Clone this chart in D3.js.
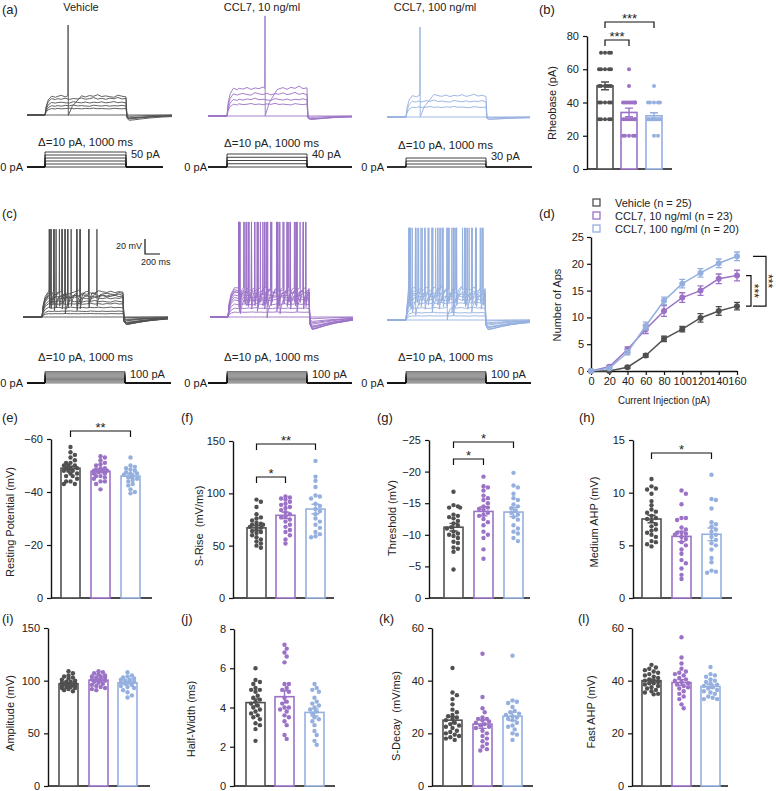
<!DOCTYPE html>
<html><head><meta charset="utf-8">
<script src="https://cdn.jsdelivr.net/npm/d3@7"></script>
<style>body{margin:0;background:#fff} text{font-family:"Liberation Sans",Arial,sans-serif;fill:#222}</style>
</head><body><svg id="c" width="776" height="791" xmlns="http://www.w3.org/2000/svg"></svg>
<script>
// ---------------- DATA ----------------
const groups = ["Vehicle", "CCL7, 10 ng/ml", "CCL7, 100 ng/ml"];
const legendLabels = ["Vehicle (n = 25)", "CCL7, 10 ng/ml (n = 23)", "CCL7, 100 ng/ml (n = 20)"];
const colors = ["#505050", "#9b72c6", "#95b0df"];

// (a) rheobase protocol traces
const stepsA = [[0,10,20,30,40,50],[0,10,20,30,40],[0,10,20,30]];
const levelsA = [[0,8,12.5,16.5,21,25],[0,15,22,29,36],[0,12.5,21,28]];
const spikesA = [[[],[],[],[],[],[285]],[[],[],[],[],[475]],[[],[],[],[175]]];
const stepLabelsA = ["50 pA","40 pA","30 pA"];
// (c) 100 pA protocol traces
const stepsC = [0,10,20,30,40,50,60,70,80,90,100];
const levelsC = [[0,4,8,12.5,17,21,25,27,29,31,33],[0,6,12,17,22,26,29,32,34,36,38],[0,5,10,16,22,27,31,34,37,40,42]];
const spikesC = [
  [[],[],[],[],[],[285],[150,430],[110,248,470],[91,174,318,578],[112,215,360,430,678],[91,145,248,285,318,471,578]],
  [[],[],[],[480],[150,640],[140,360,600,850],[135,290,450,610,770,930],[134,250,370,490,610,730,850,960],
   [140,230,330,430,530,630,730,830,930],[138,210,290,370,450,530,610,690,770,850,930],
   [134,195,260,330,400,470,540,610,680,750,820,890,960]],
  [[],[],[],[520],[120,600],[80,330,580,830],[60,240,420,600,780,950],[50,190,330,470,610,750,890],
   [45,160,280,400,520,640,760,880,975],[40,140,240,340,440,540,640,740,840,940],
   [35,120,205,290,375,460,545,630,715,800,885,970]]
];
const ripple = [0,2.0,1.0,0.4,1.5,0.2,1.2,0.7,1.8,0.4,1.0,2.2,0.6,1.4,0.3,1.6,0.9,2.4,0.7,1.3,0.5];
const onsetT = [0,15,40,80,130];
const onsetF = [0,0.5,0.85,1.06,1.0];
const offsetT = [1012,1040,1100,1200,1320,1450];
const offsetF = [0.6,1.0,0.9,0.7,0.5,0.35];

// (b) rheobase
const rheoVeh = [70,70,70,70,60,60,60,60,60,50,50,50,50,50,50,40,40,40,40,40,30,30,30,30,30];
const rheo10 = [60,50,40,40,40,40,40,40,40,40,30,30,30,30,30,30,30,30,20,20,20,20,20];
const rheo100 = [50,40,40,40,40,40,30,30,30,30,30,30,30,30,30,30,30,30,20,20];
const rheoMean = [50,34,32];
const rheoSem = [2.3,2.6,1.8];

// (d) firing
const currents = [0,20,40,60,80,100,120,140,160];
const apsVeh = [0,0,0.7,2.9,6.0,7.8,9.9,11.2,12.1];
const apsVehSem = [0,0,0.2,0.3,0.5,0.5,0.8,0.8,0.7];
const aps10 = [0,0.8,4.0,7.8,11.2,13.7,15.0,17.2,17.8];
const aps10Sem = [0,0.2,0.5,0.8,1.0,0.9,0.9,0.9,1.0];
const aps100 = [0,0.5,3.5,8.4,13.1,16.3,18.3,20.1,21.4];
const aps100Sem = [0,0.2,0.5,0.7,0.7,0.8,0.8,0.8,0.8];

// (e) resting potential
const restVeh = [-57,-55,-54,-53,-52,-51,-51,-50,-50,-50,-49,-49,-49,-48,-48,-48,-47,-47,-46,-46,-45,-44,-44,-43,-43];
const rest10 = [-53.5,-53,-52,-51,-50.5,-50,-49,-49,-48.5,-48,-48,-48,-47.5,-47,-47,-46,-46,-45.5,-45,-44,-44,-43,-41];
const rest100 = [-53,-50,-49.5,-49,-48.5,-48,-47.5,-47,-47,-46.5,-46,-45.5,-45,-44.5,-44,-43,-42.5,-41,-40,-39.5];
const restMean = [-49,-47.8,-46]; const restSem = [0.7,0.6,0.8];
// (f) S-rise
const riseVeh = [94,92,87,80,77,76,74,72,71,70,70,69,68,67,65,64,63,62,60,58,56,54,52,50,48];
const rise10 = [97,96,95,94,92,90,89,87,86,84,82,80,78,77,75,73,70,68,65,63,60,56,52];
const rise100 = [131,116,112,106,98,97,95,90,88,85,83,80,76,73,70,67,63,61,59,58];
const riseMean = [67,79,85]; const riseSem = [2.5,3,4.5];
// (g) threshold
const thrVeh = [-16.8,-14.7,-14.5,-14.3,-14.3,-13.2,-13,-12.8,-12.6,-12.2,-11.8,-11.5,-11.2,-11,-10.5,-10.2,-10,-9.8,-9.5,-8.9,-8.7,-8,-7.8,-7.3,-4.5];
const thr10 = [-19.2,-17.7,-17.5,-17,-16.2,-15.8,-15.5,-15,-14.5,-14.3,-14.1,-14,-13.5,-13.2,-13,-12.5,-12,-11.5,-10.5,-10,-9.5,-7.7,-6.2];
const thr100 = [-19.8,-17.8,-17.5,-16.5,-15.8,-15.5,-14.8,-14.5,-14.2,-13.8,-13.5,-13.2,-12.8,-12.4,-11.5,-11,-10.5,-10.2,-9.5,-9];
const thrMean = [-11.2,-13.7,-13.6]; const thrSem = [0.6,0.7,0.7];
// (h) medium AHP
const mahpVeh = [11.3,10.6,10.4,10.3,9.9,9.2,8.8,8.4,8.2,8.1,7.8,7.6,7.5,7.3,7.0,6.8,6.5,6.4,6.2,6.0,5.8,5.4,5.3,5.1,4.9];
const mahp10 = [10.2,9.9,8.9,7.6,7.6,7.4,6.7,6.5,6.2,6.2,6.1,6.0,5.8,5.6,5.3,5.0,4.6,4.2,3.6,3.3,2.8,2.2,1.8];
const mahp100 = [11.7,9.4,9.3,8.5,7.2,7.0,6.8,6.5,6.3,6.0,5.8,5.5,5.2,5.0,4.6,3.8,3.4,2.6,2.5,2.4];
const mahpMean = [7.5,5.85,6.05]; const mahpSem = [0.35,0.5,0.6];
// (i) amplitude
const ampVeh = [109,107,105,104,103,102,101,100,99,99,98,98,97,97,96,96,95,95,94,94,93,93,92,91,90];
const amp10 = [109,108,107,106,105,104,104,103,103,102,101,101,100,100,99,98,97,96,95,94,93,92,91];
const amp100 = [108,105,104,103,102,101,101,100,99,99,98,97,96,95,94,93,91,89,86,84];
const ampMean = [97,100.5,98]; const ampSem = [1,1,1.3];
// (j) half-width
const hwVeh = [6.0,5.4,5.3,5.2,5.0,4.9,4.9,4.8,4.6,4.5,4.4,4.3,4.2,4.1,4.0,3.9,3.8,3.7,3.6,3.5,3.4,3.2,3.1,2.9,2.3];
const hw10 = [7.2,7.0,6.8,6.6,6.3,5.2,5.2,5.0,4.9,4.8,4.5,4.3,4.2,4.0,4.0,3.9,3.8,3.6,3.5,3.3,3.1,2.6,2.4];
const hw100 = [5.2,5.0,4.9,4.8,4.5,4.3,4.2,4.1,4.0,3.9,3.8,3.7,3.5,3.4,3.3,3.1,2.8,2.6,2.3,2.1];
const hwMean = [4.25,4.55,3.75]; const hwSem = [0.18,0.3,0.18];
// (k) S-decay
const decVeh = [44.8,35.5,34.5,33,31,29,28,27,26.5,26,25.5,25,24,23.5,23,22.5,22,21,20.5,20,19.5,19,18.5,18,17.5];
const dec10 = [50.2,33.8,29.5,28,26,25.5,25.5,25,24.5,24,23.5,23,22.5,22,21,20,19,18,17,16,15,14,13.5];
const dec100 = [49.5,32.5,32,31.5,30,28.5,28,27.5,27,26.5,26,25.5,25,24,23,22.5,21.5,20,19.5,17.5];
const decMean = [25,23.5,26.5]; const decSem = [1.3,1.6,1.6];
// (l) fast AHP
const fahpVeh = [46,45,44.5,44,43.5,43,42.5,42,41.5,41,40.5,40,40,39.5,39,39,38.5,38,37.5,37,36.5,36,35.5,35,34.8];
const fahp10 = [56.5,48.8,46.5,44.5,43.5,43,42.5,42,41,40.5,40,39.5,39,38.5,38,37.5,37,36,35,34,33,31,29.5];
const fahp100 = [45.2,42.5,42,41.5,40.5,40,39.5,39,38.5,38,37.5,37,36.5,36,35.5,35,34,33.5,33,33];
const fahpMean = [40,39.3,37.8]; const fahpSem = [0.6,1.1,0.7];

// ---------------- DRAW ----------------
const svg = d3.select("#c");
svg.append("rect").attr("width",776).attr("height",791).attr("fill","#fff");
const FS = 11;

function txt(x,y,s,opt={}) {
  const t = svg.append("text").attr("x",x).attr("y",y).text(s)
    .attr("font-size",opt.fs||FS).attr("text-anchor",opt.anchor||"start");
  if (opt.rot) t.attr("transform",`rotate(${opt.rot},${x},${y})`);
  if (opt.pre) t.style("white-space","pre");
  return t;
}

// panel labels
[["(a)",2,14],["(b)",539,14],["(c)",2,218],["(d)",539,218],["(e)",2,422],["(f)",181,422],["(g)",377,422],["(h)",579,422],
 ["(i)",2,623],["(j)",181,623],["(k)",379,623],["(l)",578,623]].forEach(d=>txt(d[1],d[2],d[0],{fs:13}));

// ---- traces ----
function sweepPoints(L, spikes, k, p, tStart, tEnd) {
  const V0 = -60 + [0,0.4,-0.4][k%3];
  let pts = [[tStart,V0],[0,V0]];
  for (let i=1;i<onsetT.length;i++) pts.push([onsetT[i], V0+L*onsetF[i]]);
  for (let i=3;i<=20;i++) pts.push([i*50, V0+L+ripple[(i+5*k)%ripple.length]*L/25*p.rip]);
  for (let i=0;i<offsetT.length;i++) pts.push([offsetT[i], V0-L*p.under*offsetF[i]]);
  pts.push([tEnd, V0-L*p.under*0.25]);
  spikes.forEach(ts=>{
    const vb = V0+L, ahp = p.ahp==null ? L : p.ahp;
    pts = pts.filter(q=>q[0]<ts-4 || q[0]>Math.min(ts+p.rec,999));
    [[ts-3,vb+2],[ts,p.peak],[ts+3,vb-ahp],[ts+p.rec*0.35,vb-ahp*0.5],[ts+p.rec,vb]]
      .filter(q=>q[0]<1000).forEach(q=>pts.push(q));
  });
  pts.sort((a,b)=>a[0]-b[0]);
  return pts;
}

function tracePanel(cfg, steps, levels, spikes, color, p) {
  const xs = d3.scaleLinear().domain([0,1000]).range([cfg.sx0,cfg.sx1]);
  const ys = d3.scaleLinear().domain([-60,60]).range([cfg.baseY,cfg.baseY-86.4]);
  const tStart = xs.invert(cfg.x0), tEnd = xs.invert(cfg.x1);
  const line = d3.line().x(d=>xs(d[0])).y(d=>ys(d[1]));
  const g = svg.append("g");
  levels.forEach((L,k)=>{
    g.append("path").attr("d",line(sweepPoints(L,spikes[k],k,p,tStart,tEnd)))
      .attr("fill","none").attr("stroke",color).attr("stroke-width",0.9).attr("stroke-linejoin","round");
  });
  // stimulus
  const ss = d3.scaleLinear().domain([0,d3.max(steps)]).range([cfg.stimY,cfg.stimTop]);
  const xst = d3.scaleLinear().domain([0,1000]).range([cfg.bx0,cfg.bx1]);
  const ls = xst.invert(cfg.lx0), le = xst.invert(cfg.lx1);
  const sline = d3.line().x(d=>xst(d[0])).y(d=>ss(d[1]));
  steps.forEach(a=>{
    g.append("path").attr("d",sline([[ls,0],[0,0],[0,a],[1000,a],[1000,0],[le,0]]))
      .attr("fill","none").attr("stroke","#111").attr("stroke-width",cfg.sw);
  });
  txt(cfg.zx, cfg.stimY+4, "0 pA", {anchor:"end"});
  txt(cfg.bx1+5, cfg.topLabY, cfg.topLab);
  txt(cfg.dx, cfg.dy, "\u0394=10 pA, 1000 ms", {fs:11.5});
}

// titles
txt(81,11,groups[0],{anchor:"middle"});
txt(262,11,groups[1],{anchor:"middle"});
txt(435,11,groups[2],{anchor:"middle"});

const cfgA = [
  {x0:27,x1:172,sx0:45,sx1:126,bx0:45,bx1:126,sw:0.8,baseY:115,stimY:167,stimTop:152,lx0:27,lx1:163,zx:23,topLabY:158,topLab:stepLabelsA[0],dx:38,dy:146},
  {x0:208,x1:352,sx0:227,sx1:307,bx0:227,bx1:307,sw:0.8,baseY:116,stimY:167,stimTop:154,lx0:208,lx1:352,zx:207,topLabY:158,topLab:stepLabelsA[1],dx:224,dy:147},
  {x0:387,x1:530,sx0:406,sx1:486,bx0:406,bx1:486,sw:0.8,baseY:117,stimY:167,stimTop:158,lx0:387,lx1:532,zx:384,topLabY:160,topLab:stepLabelsA[2],dx:398,dy:149}
];
const pA = [{peak:65,under:0.28,rec:150,ahp:null,rip:1.5},{peak:79,under:0.15,rec:150,ahp:null,rip:1.5},{peak:65,under:0.12,rec:150,ahp:null,rip:1.5}];
cfgA.forEach((c,i)=>tracePanel(c,stepsA[i],levelsA[i],spikesA[i],colors[i],pA[i]));

const cfgC = [
  {x0:23,x1:168,sx0:42,sx1:123,bx0:45,bx1:125,sw:0.55,baseY:317,stimY:383,stimTop:371.5,lx0:27,lx1:171,zx:23,topLabY:378,topLab:"100 pA",dx:38,dy:361},
  {x0:210,x1:353,sx0:228,sx1:309,bx0:227,bx1:307,sw:0.55,baseY:317,stimY:383,stimTop:371.5,lx0:208,lx1:352,zx:207,topLabY:378,topLab:"100 pA",dx:224,dy:361},
  {x0:387,x1:530,sx0:406,sx1:485,bx0:406,bx1:486,sw:0.55,baseY:320,stimY:383,stimTop:371.5,lx0:387,lx1:531,zx:384,topLabY:378,topLab:"100 pA",dx:398,dy:361}
];
const pC = [{peak:62,under:0.33,rec:40,ahp:16,rip:1.2},{peak:72,under:0.47,rec:40,ahp:18,rip:1.2},{peak:68,under:0.33,rec:40,ahp:16,rip:1.2}];
cfgC.forEach((c,i)=>tracePanel(c,stepsC,levelsC[i],spikesC[i],colors[i],pC[i]));
// scale bar
svg.append("path").attr("d","M145,239V254H160").attr("fill","none").attr("stroke","#111").attr("stroke-width",1.2);
txt(142,249,"20 mV",{fs:9,anchor:"end"});
txt(141,265,"200 ms",{fs:9});

// ---- bar panels ----
function swarm(vals, ys, cx, r, half) {
  const sorted = vals.map(v=>({v,y:ys(v)})).sort((a,b)=>a.y-b.y);
  const placed = [], step = r, minD = 2*r*0.9;
  sorted.forEach(d=>{
    let best=0,bestOv=Infinity;
    for (let j=0;j<=Math.floor(half/step);j++){
      for (const s of (j===0?[1]:[1,-1])){
        const off=s*j*step; let ov=0;
        placed.forEach(p=>{const dist=Math.hypot(p.x-(cx+off),p.y-d.y); if(dist<minD) ov+=minD-dist;});
        if (ov<1e-6){best=off;bestOv=0;break;}
        if (ov<bestOv){bestOv=ov;best=off;}
      }
      if (bestOv===0) break;
    }
    d.x=cx+best; placed.push(d);
  });
  return placed;
}

function barPanel(c) {
  const ys = d3.scaleLinear().domain(c.domain).range([c.y0,c.y1]);
  const g = svg.append("g");
  const ax = g.append("g").attr("transform",`translate(${c.axisX},0)`)
    .call(d3.axisLeft(ys).tickValues(c.ticks).tickSize(4).tickSizeOuter(0).tickPadding(4).tickFormat(d3.format("d")));
  ax.select(".domain").attr("stroke","#111").attr("stroke-width",1.4);
  ax.selectAll(".tick line").attr("stroke","#111").attr("stroke-width",1.2);
  ax.selectAll(".tick text").attr("font-size",FS).attr("fill","#222").attr("font-family","Liberation Sans, Arial, sans-serif");
  g.append("line").attr("x1",c.axisX).attr("x2",c.axisEnd).attr("y1",c.y0).attr("y2",c.y0).attr("stroke","#111").attr("stroke-width",1.4);
  c.data.forEach((vals,i)=>{
    const x = c.barX[i], w = c.barW, cx = x+w/2;
    const m = c.mean[i], s = c.sem[i];
    g.append("rect").attr("x",x).attr("y",Math.min(ys(m),ys(0))).attr("width",w).attr("height",Math.abs(ys(m)-ys(0)))
      .attr("fill","#fff").attr("stroke",colors[i]).attr("stroke-width",1.6);
    const e1 = ys(m-s), e2 = ys(m+s);
    g.append("path").attr("d",`M${cx},${e1}V${e2}M${cx-4},${e1}H${cx+4}M${cx-4},${e2}H${cx+4}`)
      .attr("stroke",colors[i]).attr("stroke-width",1.4).attr("fill","none");
    swarm(vals,ys,cx,c.r||2.2,w/2-1).forEach(d=>{
      g.append("circle").attr("cx",d.x).attr("cy",d.y).attr("r",c.r||2.2).attr("fill",colors[i]);
    });
  });
  (c.brackets||[]).forEach(b=>{
    const xa = c.barX[b.a]+c.barW/2, xb = c.barX[b.b]+c.barW/2;
    g.append("path").attr("d",`M${xa},${b.y+6}V${b.y}H${xb}V${b.y+6}`).attr("fill","none").attr("stroke","#111").attr("stroke-width",1.2);
    txt((xa+xb)/2, b.y+1, b.txt, {fs:13, anchor:"middle"});
  });
  txt(c.tx, c.ty, c.title, {rot:-90, anchor:"middle", pre:true});
}

const bw = 19;
const barPanels = [
  {axisX:587,axisEnd:672,y0:169,y1:36,domain:[0,80],ticks:[0,20,40,60,80],barX:[597,621,646],barW:16,r:2,
   data:[rheoVeh,rheo10,rheo100],mean:rheoMean,sem:rheoSem,title:"Rheobase (pA)",tx:556,ty:103,
   brackets:[{a:0,b:1,y:40,txt:"***"},{a:0,b:2,y:22,txt:"***"}]},
  {axisX:51,axisEnd:152,y0:598,y1:439,domain:[0,-60],ticks:[0,-20,-40,-60],barX:[61,91,121],barW:bw,
   data:[restVeh,rest10,rest100],mean:restMean,sem:restSem,title:"Resting Potential (mV)",tx:14,ty:522,
   brackets:[{a:0,b:2,y:431,txt:"**"}]},
  {axisX:233,axisEnd:334,y0:598,y1:441,domain:[0,150],ticks:[0,50,100,150],barX:[247,276,306],barW:bw,
   data:[riseVeh,rise10,rise100],mean:riseMean,sem:riseSem,title:"S-Rise  (mV/ms)",tx:203,ty:526,
   brackets:[{a:0,b:1,y:477,txt:"*"},{a:0,b:2,y:444,txt:"**"}]},
  {axisX:429,axisEnd:530,y0:598,y1:440,domain:[0,-25],ticks:[0,-5,-10,-15,-20,-25],barX:[444,474,504],barW:bw,
   data:[thrVeh,thr10,thr100],mean:thrMean,sem:thrSem,title:"Threshold (mV)",tx:396,ty:518,
   brackets:[{a:0,b:1,y:459,txt:"*"},{a:0,b:2,y:442,txt:"*"}]},
  {axisX:633,axisEnd:732,y0:598,y1:440,domain:[0,15],ticks:[0,5,10,15],barX:[642,672,702],barW:bw,
   data:[mahpVeh,mahp10,mahp100],mean:mahpMean,sem:mahpSem,title:"Medium AHP (mV)",tx:598,ty:522,
   brackets:[{a:0,b:2,y:453,txt:"*"}]},
  {axisX:48,axisEnd:150,y0:786,y1:628,domain:[0,150],ticks:[0,50,100,150],barX:[59,89,118],barW:bw,
   data:[ampVeh,amp10,amp100],mean:ampMean,sem:ampSem,title:"Amplitude (mV)",tx:14,ty:713},
  {axisX:234,axisEnd:335,y0:786,y1:629,domain:[0,8],ticks:[0,2,4,6,8],barX:[246,275,305],barW:bw,
   data:[hwVeh,hw10,hw100],mean:hwMean,sem:hwSem,title:"Half-Width (ms)",tx:195,ty:719},
  {axisX:432,axisEnd:533,y0:786,y1:628,domain:[0,60],ticks:[0,20,40,60],barX:[443,473,503],barW:bw,
   data:[decVeh,dec10,dec100],mean:decMean,sem:decSem,title:"S-Decay  (mV/ms)",tx:400,ty:716},
  {axisX:632,axisEnd:728,y0:786,y1:628,domain:[0,60],ticks:[0,20,40,60],barX:[642,672,701],barW:bw,
   data:[fahpVeh,fahp10,fahp100],mean:fahpMean,sem:fahpSem,title:"Fast AHP (mV)",tx:595,ty:712}
];
barPanels.forEach(barPanel);

// ---- (d) line chart ----
(function(){
  const xs = d3.scaleLinear().domain([0,160]).range([591,737]);
  const ys = d3.scaleLinear().domain([0,25]).range([371,237]);
  const g = svg.append("g");
  const ay = g.append("g").attr("transform","translate(591,0)")
    .call(d3.axisLeft(ys).tickValues([0,5,10,15,20,25]).tickSize(4).tickSizeOuter(0).tickPadding(3));
  const axb = g.append("g").attr("transform","translate(0,371)")
    .call(d3.axisBottom(xs).tickValues(currents).tickSize(4).tickSizeOuter(0).tickPadding(2));
  [ay,axb].forEach(a=>{
    a.select(".domain").attr("stroke","#111").attr("stroke-width",1.4);
    a.selectAll(".tick line").attr("stroke","#111").attr("stroke-width",1.2);
    a.selectAll(".tick text").attr("font-size",FS).attr("fill","#222").attr("font-family","Liberation Sans, Arial, sans-serif");
  });
  const series = [[apsVeh,apsVehSem],[aps10,aps10Sem],[aps100,aps100Sem]];
  const line = d3.line().x((d,i)=>xs(currents[i])).y(d=>ys(d));
  series.forEach(([v,s],k)=>{
    g.append("path").attr("d",line(v)).attr("fill","none").attr("stroke",colors[k]).attr("stroke-width",1.5);
    v.forEach((m,i)=>{
      const cx = xs(currents[i]);
      if (s[i]>0) g.append("path").attr("d",`M${cx},${ys(m-s[i])}V${ys(m+s[i])}M${cx-3},${ys(m-s[i])}H${cx+3}M${cx-3},${ys(m+s[i])}H${cx+3}`)
        .attr("stroke",colors[k]).attr("stroke-width",1.3).attr("fill","none");
      g.append("circle").attr("cx",cx).attr("cy",ys(m)).attr("r",3).attr("fill",colors[k]);
    });
  });
  // brackets
  const yv = ys(apsVeh[8]), y10 = ys(aps10[8]), y100 = ys(aps100[8]);
  g.append("path").attr("d",`M746,${y10}H751V${yv}H746`).attr("fill","none").attr("stroke","#111").attr("stroke-width",1.2);
  g.append("path").attr("d",`M753,${y100}H766V${yv}H753`).attr("fill","none").attr("stroke","#111").attr("stroke-width",1.2);
  txt(750,(y10+yv)/2,"***",{fs:12,anchor:"middle",rot:90});
  txt(764,(y100+yv)/2,"***",{fs:12,anchor:"middle",rot:90});
  txt(664,404,"Current Injection (pA)",{anchor:"middle"}).attr("textLength",92).attr("lengthAdjust","spacingAndGlyphs");
  txt(561,305,"Number of Aps",{rot:-90,anchor:"middle"});
  // legend
  legendLabels.forEach((l,i)=>{
    const cy = 202.5 + i*13;
    g.append("rect").attr("x",593).attr("y",cy-3.5).attr("width",7).attr("height",7).attr("fill","none").attr("stroke",colors[i]).attr("stroke-width",1.3);
    txt(615,cy+4,l);
  });
})();
</script></body></html>
